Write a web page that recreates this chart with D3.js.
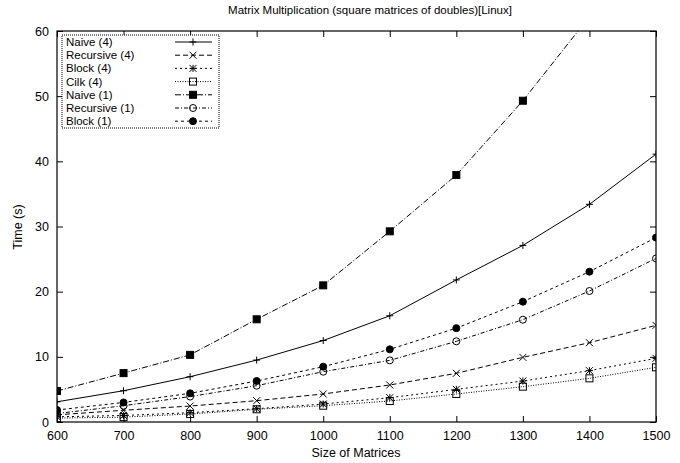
<!DOCTYPE html>
<html>
<head>
<meta charset="utf-8">
<script src="https://cdn.jsdelivr.net/npm/d3@7"></script>
<style>
  body { margin: 0; background: #fff; }
  svg text { font-family: "Liberation Sans", Arial, sans-serif; fill: #000; }
</style>
</head>
<body>
<div id="container"></div>
<script>
// matrix sizes on the x axis
const sizes = [600, 700, 800, 900, 1000, 1100, 1200, 1300, 1400, 1500]
const xTicks = [600, 700, 800, 900, 1000, 1100, 1200, 1300, 1400, 1500]
const yTicks = [0, 10, 20, 30, 40, 50, 60]

// times in seconds
const naive4 = [3.1, 4.8, 6.95, 9.5, 12.5, 16.3, 21.8, 27.1, 33.4, 41.1]
const recursive4 = [1.1, 1.8, 2.45, 3.27, 4.3, 5.68, 7.47, 9.92, 12.17, 14.83]
const block4 = [0.8, 1.0, 1.43, 2.04, 2.76, 3.73, 5.01, 6.29, 7.88, 9.77]
const cilk4 = [0.6, 0.75, 1.23, 1.95, 2.5, 3.22, 4.3, 5.42, 6.7, 8.39]
const naive1 = [4.76, 7.5, 10.3, 15.76, 20.97, 29.26, 37.9, 49.3, 62.2, 78]
const recursive1 = [1.3, 2.5, 3.9, 5.57, 7.72, 9.46, 12.38, 15.7, 20.1, 25.1]
const block1 = [1.84, 3.0, 4.4, 6.29, 8.49, 11.15, 14.4, 18.46, 23.07, 28.3]

const seriesNames = ['Naive (4)', 'Recursive (4)', 'Block (4)', 'Cilk (4)', 'Naive (1)', 'Recursive (1)', 'Block (1)']
const seriesValues = [naive4, recursive4, block4, cilk4, naive1, recursive1, block1]
const dashes = [null, '5,3', '2,3', '1,1.5', '6,2,1,2', '4,2,1,2', '3,3']
const markers = ['plus', 'cross', 'star', 'square', 'filledSquare', 'circle', 'filledCircle']

const width = 680
const height = 463
const margin = { top: 31, right: 24, bottom: 41, left: 57 }

const svg = d3.select('#container')
    .append('svg')
    .attr('width', width)
    .attr('height', height)

const xScale = d3.scaleLinear()
    .domain([600, 1500])
    .range([margin.left, width - margin.right])
const yScale = d3.scaleLinear()
    .domain([0, 60])
    .range([height - margin.bottom, margin.top])

// axes, ticks pointing inward like gnuplot
const xAxis = d3.axisBottom(xScale).tickValues(xTicks).tickFormat(d3.format('d'))
    .tickSizeInner(-6).tickSizeOuter(0).tickPadding(9)
svg.append('g')
    .attr('transform', `translate(0, ${height - margin.bottom})`)
    .call(xAxis)
    .call(g => g.select('.domain').remove())
    .call(g => g.selectAll('text').attr('font-size', 12.5))

svg.append('g')
    .attr('transform', `translate(0, ${margin.top})`)
    .call(d3.axisTop(xScale).tickValues(xTicks).tickSizeInner(-6).tickSizeOuter(0).tickFormat(''))
    .call(g => g.select('.domain').remove())

const yAxis = d3.axisLeft(yScale).tickValues(yTicks).tickSizeInner(-6).tickSizeOuter(0).tickPadding(8)
svg.append('g')
    .attr('transform', `translate(${margin.left}, 0)`)
    .call(yAxis)
    .call(g => g.select('.domain').remove())
    .call(g => g.selectAll('text').attr('font-size', 12.5))

svg.append('g')
    .attr('transform', `translate(${width - margin.right}, 0)`)
    .call(d3.axisRight(yScale).tickValues(yTicks).tickSizeInner(-6).tickSizeOuter(0).tickFormat(''))
    .call(g => g.select('.domain').remove())

svg.append('rect')
    .attr('x', margin.left)
    .attr('y', margin.top)
    .attr('width', width - margin.left - margin.right)
    .attr('height', height - margin.top - margin.bottom)
    .attr('fill', 'none')
    .attr('stroke', '#000')
    .attr('stroke-width', 1.2)

svg.append('defs').append('clipPath')
    .attr('id', 'clip')
    .append('rect')
    .attr('x', margin.left)
    .attr('y', margin.top)
    .attr('width', width - margin.left - margin.right)
    .attr('height', height - margin.top - margin.bottom)

const drawMarker = (g, type, x, y) => {
    const s = 3.5
    if (type === 'plus') {
        g.append('path').attr('d', `M${x - s},${y}H${x + s}M${x},${y - s}V${y + s}`).attr('stroke', '#000')
    } else if (type === 'cross') {
        g.append('path').attr('d', `M${x - s},${y - s}L${x + s},${y + s}M${x - s},${y + s}L${x + s},${y - s}`).attr('stroke', '#000')
    } else if (type === 'star') {
        g.append('path').attr('d', `M${x - s},${y}H${x + s}M${x},${y - s}V${y + s}M${x - s},${y - s}L${x + s},${y + s}M${x - s},${y + s}L${x + s},${y - s}`).attr('stroke', '#000')
    } else if (type === 'square' || type === 'filledSquare') {
        g.append('rect').attr('x', x - 3.5).attr('y', y - 3.5).attr('width', 7).attr('height', 7)
            .attr('fill', type === 'square' ? 'none' : '#000').attr('stroke', '#000')
    } else {
        g.append('circle').attr('cx', x).attr('cy', y).attr('r', 3.5)
            .attr('fill', type === 'circle' ? 'none' : '#000').attr('stroke', '#000')
    }
}

const line = d3.line()
    .x((d, i) => xScale(sizes[i]))
    .y(d => yScale(d))

const plot = svg.append('g').attr('clip-path', 'url(#clip)')

seriesValues.forEach((values, k) => {
    plot.append('path')
        .datum(values)
        .attr('d', line)
        .attr('fill', 'none')
        .attr('stroke', '#000')
        .attr('stroke-width', 1)
        .attr('stroke-dasharray', dashes[k])
    const mg = plot.append('g').attr('stroke-width', 1)
    values.forEach((v, i) => drawMarker(mg, markers[k], xScale(sizes[i]), yScale(v)))
})

// legend
const legend = svg.append('g')
legend.append('rect')
    .attr('x', 62).attr('y', 35).attr('width', 157).attr('height', 93)
    .attr('fill', '#fff')
    .attr('stroke', '#000')
    .attr('stroke-dasharray', '1,1')
seriesNames.forEach((name, k) => {
    const y = 42 + k * 13.2
    legend.append('text')
        .attr('x', 66).attr('y', y)
        .attr('dy', '0.35em')
        .attr('font-size', 11.5)
        .attr('textLength', name.length > 10 ? null : null)
        .text(name)
    legend.append('path')
        .attr('d', `M175,${y}H212`)
        .attr('stroke', '#000')
        .attr('stroke-dasharray', dashes[k])
    drawMarker(legend.append('g'), markers[k], 193, y)
})

svg.append('text')
    .attr('x', 370).attr('y', 14)
    .attr('text-anchor', 'middle')
    .attr('font-size', 11.5)
    .text('Matrix Multiplication (square matrices of doubles)[Linux]')

svg.append('text')
    .attr('x', 356).attr('y', 457)
    .attr('text-anchor', 'middle')
    .attr('font-size', 12.5)
    .text('Size of Matrices')

svg.append('text')
    .attr('transform', 'translate(22, 227) rotate(-90)')
    .attr('text-anchor', 'middle')
    .attr('font-size', 12.5)
    .text('Time (s)')
</script>
</body>
</html>
